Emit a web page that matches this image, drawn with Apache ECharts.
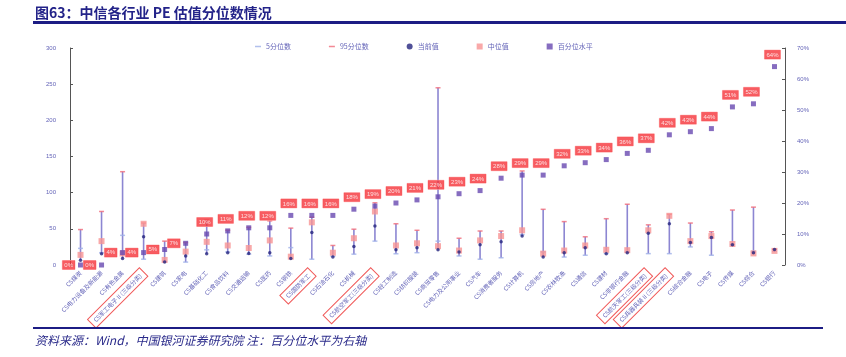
<!DOCTYPE html>
<html><head><meta charset="utf-8">
<script src="https://cdn.jsdelivr.net/npm/echarts@6/dist/echarts.min.js"></script>
<style>
html,body{margin:0;padding:0;background:#fff;}
#wrap{position:relative;width:846px;height:357px;overflow:hidden;}
#title{position:absolute;left:35px;top:2px;font:bold 14px "Noto Sans CJK SC",sans-serif;color:#232389;}
#topline{position:absolute;left:33px;top:21px;width:813px;height:3px;background:#1c1c84;}
#botline{position:absolute;left:33px;top:327px;width:790px;height:2px;background:#1c1c84;}
#src{position:absolute;left:35px;top:331px;font:italic 12px "Noto Sans CJK SC",serif;color:#2a2a8a;}
#chart{position:absolute;left:0;top:0;width:846px;height:357px;}
</style></head>
<body><div id="wrap">
<div id="chart"></div>
<div id="title">图63：中信各行业 PE 估值分位数情况</div>
<div id="topline"></div>
<div id="botline"></div>
<div id="src">资料来源：Wind，中国银河证券研究院  注：百分位水平为右轴</div>
</div>
<script>
const categories = ["CS煤炭","CS电力设备及新能源","CS有色金属","CS军工电子Ⅱ(三级分类)","CS建筑","CS家电","CS基础化工","CS食品饮料","CS交通运输","CS医药","CS钢铁","CS国防军工","CS石油石化","CS机械","CS航空军工(三级分类)","CS轻工制造","CS纺织服装","CS商贸零售","CS电力及公用事业","CS汽车","CS消费者服务","CS计算机","CS房地产","CS农林牧渔","CS通信","CS建材","CS非银行金融","CS航天军工(三级分类)","CS兵器兵装Ⅱ(三级分类)","CS综合金融","CS电子","CS传媒","CS综合","CS银行"];
const boxed = [3, 11, 14, 27, 28];
const p5 = [23,17,41,8,5,4,21,18,15,12.5,24,8,12,15,33,15.5,17,33,12.5,8,10,42,18,11,13.5,16,18,15.7,15.7,25,13.5,28,19,19];
const p95 = [49,74,129,58,33,31,62,48,52,61,51,66,27,49.5,86,57,48,245,37,47,47,130,77,60,39,64,84,55.5,70,58,46,76,80,22];
const current = [6.5,15.5,9,39,4,12.5,15.5,17,16,17,9,45,11,25.5,54,21,24,21,18,28,32,40,11,17,24,15.7,17,44,57,31,38,28,17,21.5];
const median = [14,33,16,57,7,18.5,32,27,23.5,34,11.5,59,17,37,74,27,30,26,20,34,40,48,15.7,20,27,21,20.5,48,68,33,40,29,16,19.5];
const pctLevel = [0,0,4,4,5,7,10,11,12,12,16,16,16,18,19,20,21,22,23,24,28,29,29,32,33,34,36,37,42,43,44,51,52,64];
const leftTicks = [0,50,100,150,200,250,300];

const chart = echarts.init(document.getElementById('chart'), null, {renderer:'canvas'});
const txt = '#6464b8';
const catData = categories.map((c,i)=> boxed.indexOf(i)>=0 ? {value:c, textStyle:{borderColor:'#f05a5a', borderWidth:1, padding:[3,4,3,4]}} : c);
const rangeData = categories.map((c,i)=>{
  const vals=[p5[i],p95[i],current[i],median[i]];
  return [i, Math.min.apply(null,vals), Math.max.apply(null,vals)];
});
const pctData = pctLevel.map((v,i)=>({
  value:v,
  label: i<6 ? {position:'left', distance:3} : {position:'top', distance:5, offset:[-2,0]}
}));
chart.setOption({
  animation:false,
  grid:{left:70,right:61,top:48,bottom:92,containLabel:false},
  legend:{
    top:38, left:250, itemGap:38, itemWidth:6, itemHeight:6,
    textStyle:{fontSize:7,color:txt,fontFamily:'"Noto Sans CJK SC"'},
    data:[
      {name:'5分位数',icon:'path://M0,4h8v2h-8z'},
      {name:'95分位数',icon:'path://M0,4h8v2h-8z'},
      {name:'当前值',icon:'circle'},
      {name:'中位值',icon:'rect'},
      {name:'百分位水平',icon:'rect'}
    ]
  },
  xAxis:{
    type:'category', data:catData, boundaryGap:true,
    axisLine:{show:false}, axisTick:{show:false},
    axisLabel:{rotate:45, fontSize:6, color:txt, interval:0, margin:7, fontFamily:'"Noto Sans CJK SC"'}
  },
  yAxis:[
    {type:'value', min:leftTicks[0], max:leftTicks[leftTicks.length-1], interval:50, splitLine:{show:false},
     axisLine:{show:true,lineStyle:{color:'#555',width:1}}, axisTick:{show:true,inside:true,length:3,lineStyle:{color:'#555'}},
     axisLabel:{fontSize:6,color:txt,margin:14}},
    {type:'value', min:0, max:70, interval:10, splitLine:{show:false}, position:'right',
     axisLine:{show:true,lineStyle:{color:'#555',width:1}}, axisTick:{show:true,inside:true,length:3,lineStyle:{color:'#555'}},
     axisLabel:{fontSize:6,color:txt,margin:12,formatter:'{value}%'}}
  ],
  series:[
    {type:'custom', name:'range', yAxisIndex:0, z:1, silent:true,
     renderItem:function(params, api){
       const a=api.coord([api.value(0), api.value(1)]);
       const b=api.coord([api.value(0), api.value(2)]);
       return {type:'line', shape:{x1:a[0],y1:a[1],x2:b[0],y2:b[1]}, style:{stroke:'#8c86d2', lineWidth:1.6}};
     },
     encode:{x:0,y:[1,2]}, data:rangeData},
    {type:'scatter', name:'5分位数', yAxisIndex:0, z:3, symbol:'rect', symbolSize:[5,1.5], itemStyle:{color:'#9fb0e8'}, data:p5},
    {type:'scatter', name:'95分位数', yAxisIndex:0, z:3, symbol:'rect', symbolSize:[5,1.5], itemStyle:{color:'#f06b7a'}, data:p95},
    {type:'scatter', name:'当前值', yAxisIndex:0, z:5, symbol:'circle', symbolSize:3.5, itemStyle:{color:'#24247e'}, data:current},
    {type:'scatter', name:'中位值', yAxisIndex:0, z:4, symbol:'rect', symbolSize:6, itemStyle:{color:'#f79494'}, data:median},
    {type:'scatter', name:'百分位水平', yAxisIndex:1, z:6, symbol:'rect', symbolSize:5, itemStyle:{color:'#6848b0'},
     label:{show:true, formatter:'{c}%', fontSize:6, color:'#fff', backgroundColor:'#f5333a', borderColor:'#ffb0b0', borderWidth:0.5, padding:[2,2,1,2]},
     data:pctData}
  ]
});
</script>
</body></html>
